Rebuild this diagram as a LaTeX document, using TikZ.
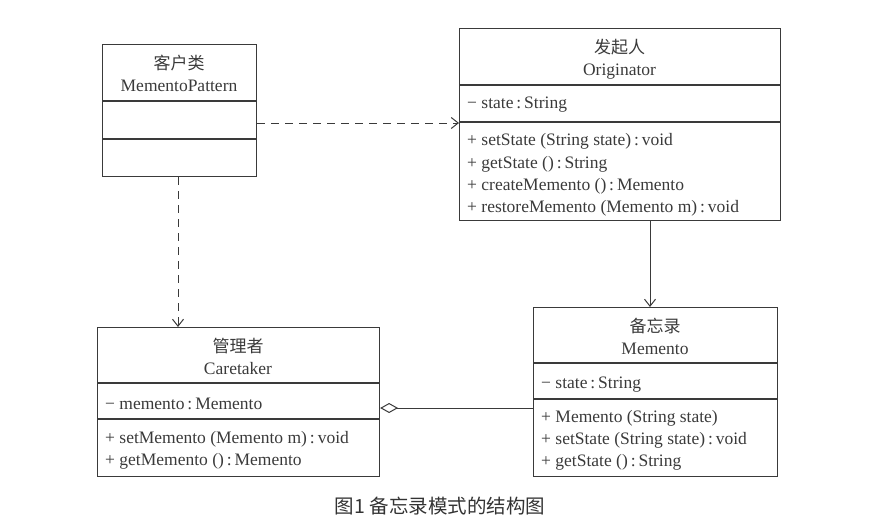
\documentclass[tikz,border=0pt]{standalone}
\usepackage{fontspec}
\setmainfont{Liberation Serif}
\newfontfamily\cjk{Noto Sans CJK SC}
\usetikzlibrary{arrows.meta}
\definecolor{ink}{HTML}{3A3A3A}
\definecolor{cap}{HTML}{333333}
\begin{document}
\begin{tikzpicture}[x=1pt,y=-1pt,
  box/.style={draw=ink,line width=1.1pt,rectangle,anchor=north west,inner sep=0pt},
  divider/.style={draw=ink,line width=1.1pt},
  title/.style={font=\fontsize{17}{17}\selectfont\cjk,text=ink,anchor=base,inner sep=0pt},
  cname/.style={font=\fontsize{17.5}{17.5}\selectfont,text=ink,anchor=base,inner sep=0pt},
  member/.style={font=\fontsize{17.5}{17.5}\selectfont,text=ink,anchor=base west,inner sep=0pt},
  dep/.style={draw=ink,line width=1pt,dash pattern=on 8pt off 6pt,-{Straight Barb[length=7pt,width=11pt,line width=1pt]}},
  assoc/.style={draw=ink,line width=1pt,-{Straight Barb[length=7pt,width=11pt,line width=1pt]}},
  aggr/.style={draw=ink,line width=1pt,{Diamond[open,length=18pt,width=10pt,line width=1pt]}-}]
\useasboundingbox (0,0) rectangle (882,527);

% Client
\node[box,minimum width=154pt,minimum height=132pt] (client) at (102,44) {};
\draw[divider] (102,101) -- (256,101);
\draw[divider] (102,139) -- (256,139);
\node[title] (clientcn) at (179,69) {客户类};
\node[cname] (clienten) at (179,91) {MementoPattern};

% Originator
\node[box,minimum width=321pt,minimum height=192pt] (orig) at (459,28) {};
\draw[divider] (459,85) -- (780,85);
\draw[divider] (459,122) -- (780,122);
\node[title] (origcn) at (619.5,53) {发起人};
\node[cname] (origen) at (619.5,75) {Originator};
\node[member] (o1) at (467,108) {− state\,:\,String};
\node[member] (o2) at (467,145) {+ setState (String state)\,:\,void};
\node[member] (o3) at (467,168) {+ getState ()\,:\,String};
\node[member] (o4) at (467,190) {+ createMemento ()\,:\,Memento};
\node[member] (o5) at (467,212) {+ restoreMemento (Memento m)\,:\,void};

% Caretaker
\node[box,minimum width=282pt,minimum height=149pt] (care) at (97,327) {};
\draw[divider] (97,383) -- (379,383);
\draw[divider] (97,419) -- (379,419);
\node[title] (carecn) at (238,352) {管理者};
\node[cname] (careen) at (238,374) {Caretaker};
\node[member] (c1) at (105,409) {− memento\,:\,Memento};
\node[member] (c2) at (105,443) {+ setMemento (Memento m)\,:\,void};
\node[member] (c3) at (105,465) {+ getMemento ()\,:\,Memento};

% Memento
\node[box,minimum width=244pt,minimum height=169pt] (mem) at (533,307) {};
\draw[divider] (533,363) -- (777,363);
\draw[divider] (533,399) -- (777,399);
\node[title] (memcn) at (655,332) {备忘录};
\node[cname] (memen) at (655,354) {Memento};
\node[member] (m1) at (541,388) {− state\,:\,String};
\node[member] (m2) at (541,422) {+ Memento (String state)};
\node[member] (m3) at (541,444) {+ setState (String state)\,:\,void};
\node[member] (m4) at (541,466) {+ getState ()\,:\,String};

% connectors
\coordinate (dy) at (0,123);
\draw[dep] (client.east |- dy) -- (orig.west |- dy);
\coordinate (dx) at (178,0);
\draw[dep] (client.south -| dx) -- (care.north -| dx);
\coordinate (ax) at (650,0);
\draw[assoc] (orig.south -| ax) -- (mem.north -| ax);
\coordinate (gy) at (0,408);
\draw[aggr] (care.east |- gy) -- (mem.west |- gy);

% caption
\node[font=\fontsize{19.5}{19.5}\selectfont\cjk,text=cap,anchor=base,inner sep=0pt] (caption) at (440,513) {图1 备忘录模式的结构图};
\end{tikzpicture}
\end{document}
